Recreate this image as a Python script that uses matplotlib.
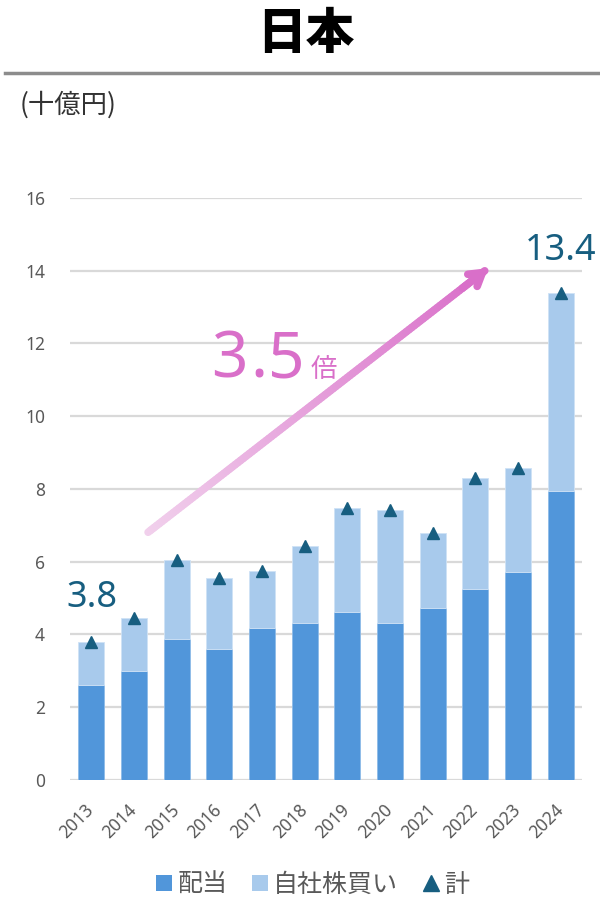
import numpy as np
import matplotlib
matplotlib.use("Agg")
import matplotlib.pyplot as plt
from matplotlib.collections import LineCollection
from matplotlib.lines import Line2D
from matplotlib.patches import Patch
import matplotlib.colors as mcolors
import matplotlib.transforms as mtransforms

plt.rcParams['font.family'] = ['Noto Sans CJK JP', 'DejaVu Sans']
NUM = ['Noto Sans', 'Noto Sans CJK JP']

years = ['2013', '2014', '2015', '2016', '2017', '2018', '2019', '2020', '2021', '2022', '2023', '2024']
dividends = [2.61, 3.00, 3.87, 3.60, 4.18, 4.32, 4.62, 4.31, 4.73, 5.25, 5.71, 7.94]
totals = [3.8, 4.45, 6.06, 5.54, 5.74, 6.43, 7.49, 7.42, 6.79, 8.30, 8.57, 13.4]
buybacks = [t - d for t, d in zip(totals, dividends)]

c_div = '#5196da'
c_buy = '#a8caec'
c_tot = '#175e80'
c_pink = '#d96fc9'
c_pink_light = '#f1d0ec'

fig = plt.figure(figsize=(6.0, 8.99), dpi=100)
ax = fig.add_axes([0.1167, 0.1324, 0.9700 - 0.1167, 0.7798 - 0.1324])

x = np.arange(len(years))
w = 0.61
ax.bar(x, dividends, w, color=c_div, edgecolor='#8dbbe8', linewidth=0.6, zorder=3)
ax.bar(x, buybacks, w, bottom=dividends, color=c_buy, edgecolor='#cfe2f5', linewidth=0.6, zorder=3)
ax.plot(x, totals, linestyle='none', marker='^', markersize=9, color=c_tot, zorder=5)

ax.set_xlim(-0.5, len(years) - 0.5)
ax.set_ylim(0, 16)
ax.set_yticks(np.arange(0, 17, 2))
ax.set_xticks(x)
ax.set_xticklabels(years, rotation=45, ha='right', va='center', rotation_mode='anchor',
                   family=NUM, fontsize=12.5)
for lab in ax.get_yticklabels():
    lab.set_family(NUM)
    lab.set_fontsize(12.5)
ax.tick_params(axis='both', length=0, colors='#595959')
ax.tick_params(axis='y', pad=18)
ax.tick_params(axis='x', pad=0)
off = mtransforms.ScaledTranslation(0 / 100, -27 / 100, fig.dpi_scale_trans)
for lab in ax.get_xticklabels():
    lab.set_transform(lab.get_transform() + off)
ax.yaxis.grid(True, color='#d9d9d9', linewidth=1.6, zorder=0)
ax.set_axisbelow(True)
for s in ax.spines.values():
    s.set_visible(False)

# value labels
ax.text(0.02, 5.0, '3.8', ha='center', va='center', fontsize=26, color=c_tot, family=NUM, clip_on=False)
ax.text(11.0, 14.55, '13.4', ha='center', va='center', fontsize=26, color=c_tot, family=NUM, clip_on=False)

# gradient arrow
x0, y0 = 1.33, 6.81
x1, y1 = 9.30, 14.07
n = 120
xs = np.linspace(x0, x1 - 0.08, n + 1)
ys = np.linspace(y0, y1 - 0.08 * (y1 - y0) / (x1 - x0), n + 1)
segs = [[(xs[i], ys[i]), (xs[i + 1], ys[i + 1])] for i in range(n)]
cmap = mcolors.LinearSegmentedColormap.from_list('pk', [c_pink_light, c_pink])
cols = [cmap(i / (n - 1)) for i in range(n)]
lc = LineCollection(segs, colors=cols, linewidths=5.5, capstyle='round', zorder=6)
ax.add_collection(lc)
ax.annotate('', xy=(x1, y1), xytext=(x1 - 0.6, y1 - 0.6 * (y1 - y0) / (x1 - x0)),
            arrowprops=dict(arrowstyle='->,head_length=0.9,head_width=0.55', color=c_pink,
                            lw=5.5, capstyle='round', joinstyle='round',
                            shrinkA=0, shrinkB=0), zorder=7)

base = 11.07
ax.text(2.80, base, '3', ha='left', va='baseline', fontsize=46, color=c_pink, family=NUM)
ax.text(3.72, base, '.', ha='left', va='baseline', fontsize=46, color=c_pink, family=NUM)
ax.text(4.15, base, '5', ha='left', va='baseline', fontsize=46, color=c_pink, family=NUM)
ax.text(5.13, base, '倍', ha='left', va='baseline', fontsize=19, color=c_pink)

# title and header
fig.text(0.51, 0.963, '日本', ha='center', va='center', fontsize=35, fontweight='black', color='black')
fig.add_artist(Line2D([0.008, 1.0], [0.919, 0.919], color='#8c8c8c', linewidth=2.5))
fig.text(0.032, 0.883, '(十億円)', ha='left', va='center', fontsize=19, color='#333333')

handles = [Patch(facecolor=c_div, edgecolor='none'),
           Patch(facecolor=c_buy, edgecolor='none'),
           Line2D([], [], linestyle='none', marker='^', markersize=11, color=c_tot)]
fig.legend(handles, ['配当', '自社株買い', '計'], loc='center', bbox_to_anchor=(0.521, 0.016),
           ncol=3, frameon=False, fontsize=18, handlelength=0.64, handleheight=0.64,
           handletextpad=0.2, columnspacing=1.0, labelcolor='#595959')

fig.savefig('out.png', dpi=100)
